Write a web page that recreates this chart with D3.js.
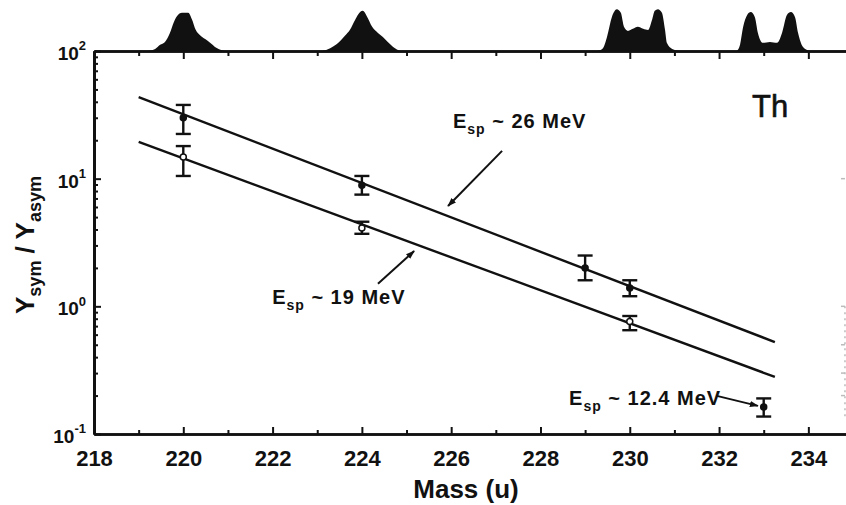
<!DOCTYPE html>
<html>
<head>
<meta charset="utf-8">
<script src="https://cdn.jsdelivr.net/npm/d3@7"></script>
<style>
  body { margin: 0; background: #fff; }
  svg { display: block; font-family: "Liberation Sans", Arial, Helvetica, sans-serif; }
</style>
</head>
<body>
<div id="chart"></div>
<script>
// axis ticks
const massTicks = [218, 220, 222, 224, 226, 228, 230, 232, 234];
const massMinorTicks = [219, 221, 223, 225, 227, 229, 231, 233];
const ratioDecades = [-1, 0, 1, 2];

// E_sp ~ 26 MeV points (ratio + error bar ends)
const hiMass = [220, 224, 229, 230];
const hiRatio = [30, 8.9, 2.0, 1.39];
const hiLow = [22.4, 7.5, 1.6, 1.2];
const hiHigh = [37.8, 10.5, 2.5, 1.6];

// E_sp ~ 19 MeV points
const loMass = [220, 224, 230];
const loRatio = [14.8, 4.1, 0.76];
const loLow = [10.5, 3.7, 0.65];
const loHigh = [18, 4.6, 0.84];

// E_sp ~ 12.4 MeV point
const lowEMass = [233];
const lowERatio = [0.163];
const lowELow = [0.137];
const lowEHigh = [0.19];

// exponential fits (straight on log axis)
const hiFit = [[219, 43.6], [233.25, 0.525]];
const loFit = [[219, 19.4], [233.25, 0.28]];

// fragment mass distributions drawn above the frame, [mass, relative yield]
const dist220 = [[219.21, 0], [219.37, 5], [219.48, 15], [219.59, 22], [219.70, 44], [219.79, 71],
  [219.88, 88], [219.97, 93], [220.11, 93], [220.19, 78], [220.28, 51], [220.37, 39],
  [220.49, 29], [220.60, 20], [220.71, 10], [220.87, 2], [220.96, 0]];
const dist224 = [[223.11, 0], [223.29, 7], [223.44, 17], [223.62, 37], [223.73, 51], [223.85, 76],
  [223.96, 95], [224.02, 98], [224.11, 85], [224.23, 59], [224.36, 44], [224.47, 34],
  [224.58, 22], [224.70, 10], [224.85, 0]];
const dist230 = [[229.27, 0], [229.40, 7], [229.49, 34], [229.60, 83], [229.71, 102], [229.80, 93],
  [229.87, 59], [229.96, 49], [230.07, 54], [230.18, 59], [230.30, 54], [230.41, 51],
  [230.50, 76], [230.56, 98], [230.63, 102], [230.72, 93], [230.79, 51], [230.83, 20],
  [230.95, 5], [231.12, 0]];
const dist233 = [[232.40, 0], [232.47, 15], [232.54, 59], [232.63, 88], [232.71, 95], [232.80, 83],
  [232.87, 44], [232.98, 20], [233.14, 22], [233.30, 20], [233.41, 44], [233.52, 88],
  [233.61, 95], [233.70, 83], [233.77, 44], [233.88, 10], [234.04, 0]];

const W = 846, H = 505;
const ink = "#111";

const svg = d3.select("#chart").append("svg")
  .attr("width", W)
  .attr("height", H);

svg.append("defs").append("marker")
  .attr("id", "head")
  .attr("viewBox", "0 0 10 10")
  .attr("refX", 9).attr("refY", 5)
  .attr("markerWidth", 9).attr("markerHeight", 9)
  .attr("markerUnits", "userSpaceOnUse")
  .attr("orient", "auto")
  .append("path")
  .attr("d", "M0,1.5 L10,5 L0,8.5 Z")
  .attr("fill", ink);

let x = d3.scaleLinear().domain([218, 235]).range([94, 853]);
let y = d3.scaleLog().domain([0.1, 100]).range([434, 51]);
let yDist = d3.scaleLinear().domain([0, 100]).range([51, 10]);

// mass distributions on top
let area = d3.area()
  .x(function (d) { return x(d[0]); })
  .y0(yDist(0))
  .y1(function (d) { return yDist(d[1]); })
  .curve(d3.curveMonotoneX);

svg.selectAll("path.dist")
  .data([dist220, dist224, dist230, dist233])
  .enter().append("path")
  .attr("class", "dist")
  .attr("d", area)
  .attr("fill", ink);

// axes
function styleAxis(g, w) {
  g.select(".domain").attr("stroke", ink).attr("stroke-width", w);
  g.selectAll(".tick line").attr("stroke", ink).attr("stroke-width", 2);
}

// bottom
svg.append("g")
  .attr("transform", "translate(0," + y(0.1) + ")")
  .call(d3.axisBottom(x).tickValues(massMinorTicks).tickSize(-4).tickSizeOuter(0).tickFormat(""))
  .call(styleAxis, 2.5);
let xAxis = svg.append("g")
  .attr("transform", "translate(0," + y(0.1) + ")")
  .call(d3.axisBottom(x).tickValues(massTicks).tickSize(-7).tickSizeOuter(0).tickPadding(12))
  .call(styleAxis, 2.5);
xAxis.selectAll(".tick text")
  .attr("fill", ink)
  .attr("font-size", 22)
  .attr("font-weight", "bold")
  .attr("dy", "0.9em");

// top
svg.append("g")
  .attr("transform", "translate(0," + y(100) + ")")
  .call(d3.axisTop(x).tickValues(massMinorTicks).tickSize(-5).tickSizeOuter(0).tickFormat(""))
  .call(styleAxis, 2.5);
svg.append("g")
  .attr("transform", "translate(0," + y(100) + ")")
  .call(d3.axisTop(x).tickValues(massTicks).tickSize(-8).tickSizeOuter(0).tickFormat(""))
  .call(styleAxis, 2.5);

// left, log ticks
let minorRatio = [];
ratioDecades.slice(0, -1).forEach(function (e) {
  d3.range(2, 10).forEach(function (k) { minorRatio.push(k * Math.pow(10, e)); });
});
svg.append("g")
  .attr("transform", "translate(" + x(218) + ",0)")
  .call(d3.axisLeft(y).tickValues(minorRatio).tickSize(-4).tickSizeOuter(0).tickFormat(""))
  .call(styleAxis, 3);
let yAxis = svg.append("g")
  .attr("transform", "translate(" + x(218) + ",0)")
  .call(d3.axisLeft(y).tickValues(ratioDecades.map(function (e) { return Math.pow(10, e); }))
    .tickSize(-7).tickSizeOuter(0).tickPadding(8))
  .call(styleAxis, 3);
yAxis.selectAll(".tick text").each(function (d) {
  let t = d3.select(this).text(null)
    .attr("fill", ink)
    .attr("font-weight", "bold")
    .attr("font-size", 19)
    .attr("dy", "0.45em");
  t.append("tspan").text("10");
  t.append("tspan").attr("font-size", 13).attr("dy", "-0.75em").text(Math.round(Math.log10(d)));
});

// faint right-hand frame left over from the scan
let rightEdge = svg.append("g").attr("stroke", "#bbb").attr("stroke-width", 1.5);
rightEdge.append("line")
  .attr("x1", x(234.82)).attr("x2", x(234.82))
  .attr("y1", y(1)).attr("y2", y(0.13))
  .attr("stroke-dasharray", "2,4");
rightEdge.selectAll("line.rt")
  .data([10, 1, 0.5, 0.3, 0.2])
  .enter().append("line")
  .attr("class", "rt")
  .attr("x1", x(234.82) - 4).attr("x2", x(234.82))
  .attr("y1", function (d) { return y(d); })
  .attr("y2", function (d) { return y(d); });

// fit lines
let line = d3.line()
  .x(function (d) { return x(d[0]); })
  .y(function (d) { return y(d[1]); });
svg.selectAll("path.fit")
  .data([hiFit, loFit])
  .enter().append("path")
  .attr("class", "fit")
  .attr("d", line)
  .attr("fill", "none")
  .attr("stroke", ink)
  .attr("stroke-width", 2.4);

// error bars + markers
function drawPoints(mass, val, lo, hi, open) {
  let pts = mass.map(function (m, i) { return {m: m, v: val[i], lo: lo[i], hi: hi[i]}; });
  let g = svg.append("g").attr("stroke", ink).attr("stroke-width", 2.4);
  let cap = 7.5;
  let p = g.selectAll("g").data(pts).enter().append("g");
  p.append("line")
    .attr("x1", function (d) { return x(d.m); }).attr("x2", function (d) { return x(d.m); })
    .attr("y1", function (d) { return y(d.lo); }).attr("y2", function (d) { return y(d.hi); });
  p.append("line")
    .attr("x1", function (d) { return x(d.m) - cap; }).attr("x2", function (d) { return x(d.m) + cap; })
    .attr("y1", function (d) { return y(d.lo); }).attr("y2", function (d) { return y(d.lo); });
  p.append("line")
    .attr("x1", function (d) { return x(d.m) - cap; }).attr("x2", function (d) { return x(d.m) + cap; })
    .attr("y1", function (d) { return y(d.hi); }).attr("y2", function (d) { return y(d.hi); });
  p.append("circle")
    .attr("cx", function (d) { return x(d.m); })
    .attr("cy", function (d) { return y(d.v); })
    .attr("r", 3)
    .attr("stroke-width", 1.5)
    .attr("fill", open ? "#fff" : ink);
}
drawPoints(hiMass, hiRatio, hiLow, hiHigh, false);
drawPoints(loMass, loRatio, loLow, loHigh, true);
drawPoints(lowEMass, lowERatio, lowELow, lowEHigh, false);

// labels
function espLabel(m, v, rest) {
  let t = svg.append("text")
    .attr("x", x(m)).attr("y", y(v))
    .attr("fill", ink)
    .attr("font-weight", "bold")
    .attr("font-size", 20)
    .attr("letter-spacing", 1);
  t.append("tspan").text("E");
  t.append("tspan").attr("font-size", 14).attr("dy", 6).text("sp");
  t.append("tspan").attr("dy", -6).text(" ~ " + rest);
}
espLabel(226.04, 24.9, "26 MeV");
espLabel(221.99, 1.04, "19 MeV");
espLabel(228.64, 0.169, "12.4 MeV");

let arrows = [
  [[227.14, 16.5], [225.93, 6.11]],
  [[224.36, 1.50], [225.17, 2.71]],
  [[231.95, 0.199], [232.87, 0.166]]
];
svg.selectAll("line.arrow")
  .data(arrows)
  .enter().append("line")
  .attr("class", "arrow")
  .attr("x1", function (d) { return x(d[0][0]); })
  .attr("y1", function (d) { return y(d[0][1]); })
  .attr("x2", function (d) { return x(d[1][0]); })
  .attr("y2", function (d) { return y(d[1][1]); })
  .attr("stroke", ink)
  .attr("stroke-width", 2)
  .attr("marker-end", "url(#head)");

svg.append("text")
  .attr("x", x(232.74)).attr("y", y(30.4))
  .attr("fill", ink)
  .attr("font-size", 31)
  .attr("stroke", ink)
  .attr("stroke-width", 0.6)
  .text("Th");

// axis titles
svg.append("text")
  .attr("x", (x(218) + 846) / 2 - 4)
  .attr("y", 498)
  .attr("text-anchor", "middle")
  .attr("fill", ink)
  .attr("font-weight", "bold")
  .attr("font-size", 26)
  .text("Mass (u)");

let yt = svg.append("text")
  .attr("transform", "translate(34,245) rotate(-90)")
  .attr("text-anchor", "middle")
  .attr("fill", ink)
  .attr("font-weight", "bold")
  .attr("font-size", 26);
yt.append("tspan").text("Y");
yt.append("tspan").attr("font-size", 18).attr("dy", 7).text("sym");
yt.append("tspan").attr("dy", -7).text(" / Y");
yt.append("tspan").attr("font-size", 18).attr("dy", 7).text("asym");
</script>
</body>
</html>
